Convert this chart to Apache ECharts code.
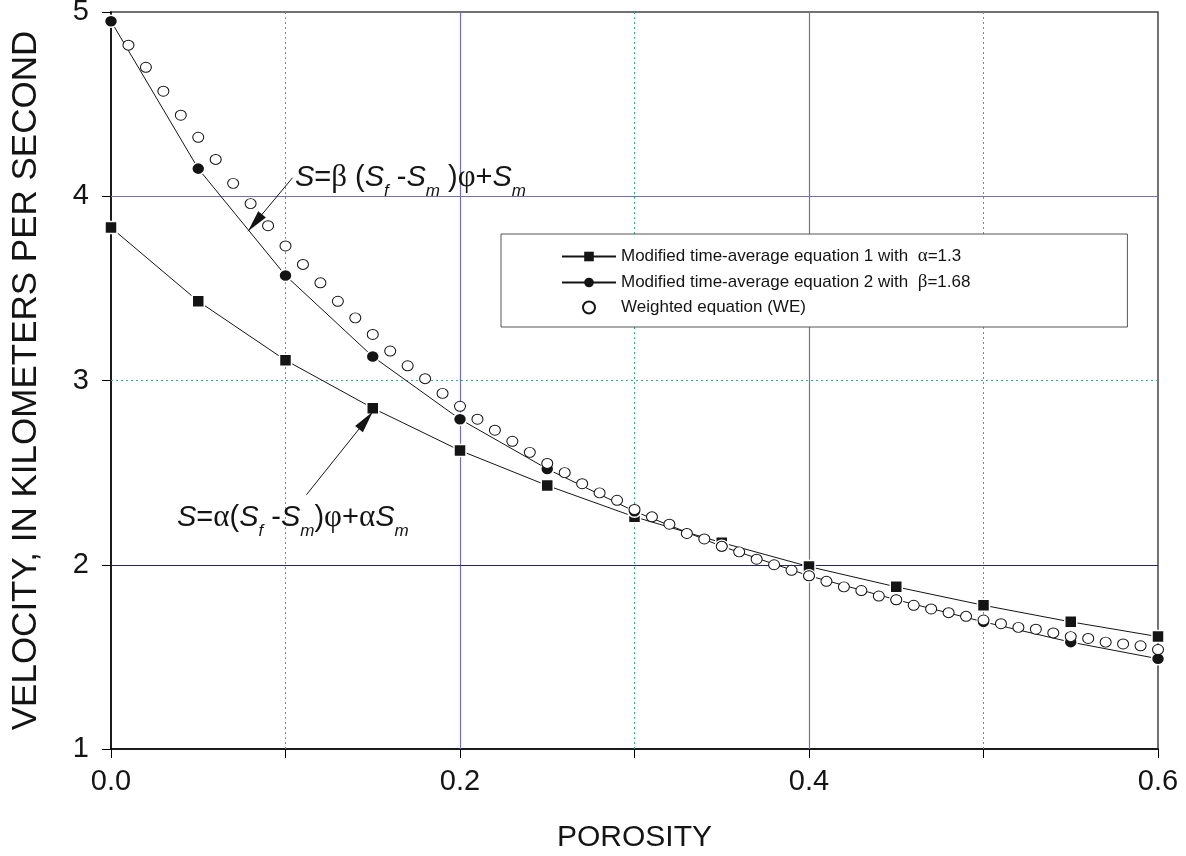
<!DOCTYPE html>
<html>
<head>
<meta charset="utf-8">
<title>Velocity versus porosity</title>
<script src="https://cdn.jsdelivr.net/npm/echarts@6/dist/echarts.min.js"></script>
<style>
  html, body { margin: 0; padding: 0; background: #fff; }
  #chart { width: 1186px; height: 856px; }
</style>
</head>
<body>
<div id="chart"></div>
<script>
// porosity steps of the two modified time-average equations
const porosity = [0.00, 0.05, 0.10, 0.15, 0.20, 0.25, 0.30, 0.35, 0.40, 0.45, 0.50, 0.55, 0.60];
const velocityEq1 = [3.83, 3.43, 3.11, 2.85, 2.62, 2.43, 2.26, 2.12, 1.99, 1.88, 1.78, 1.69, 1.61];
const velocityEq2 = [4.95, 4.15, 3.57, 3.13, 2.79, 2.52, 2.29, 2.10, 1.94, 1.81, 1.69, 1.58, 1.49];

// weighted equation, read every 0.01
const porosityWE = [
  0.01, 0.02, 0.03, 0.04, 0.05, 0.06, 0.07, 0.08, 0.09, 0.10,
  0.11, 0.12, 0.13, 0.14, 0.15, 0.16, 0.17, 0.18, 0.19, 0.20,
  0.21, 0.22, 0.23, 0.24, 0.25, 0.26, 0.27, 0.28, 0.29, 0.30,
  0.31, 0.32, 0.33, 0.34, 0.35, 0.36, 0.37, 0.38, 0.39, 0.40,
  0.41, 0.42, 0.43, 0.44, 0.45, 0.46, 0.47, 0.48, 0.49, 0.50,
  0.51, 0.52, 0.53, 0.54, 0.55, 0.56, 0.57, 0.58, 0.59, 0.60
];
const velocityWE = [
  4.82, 4.70, 4.57, 4.44, 4.32, 4.20, 4.07, 3.96, 3.84, 3.73,
  3.63, 3.53, 3.43, 3.34, 3.25, 3.16, 3.08, 3.01, 2.93, 2.86,
  2.79, 2.73, 2.67, 2.61, 2.55, 2.50, 2.44, 2.39, 2.35, 2.30,
  2.26, 2.22, 2.17, 2.14, 2.10, 2.07, 2.03, 2.00, 1.97, 1.94,
  1.91, 1.88, 1.86, 1.83, 1.81, 1.78, 1.76, 1.74, 1.72, 1.70,
  1.68, 1.66, 1.65, 1.63, 1.61, 1.60, 1.58, 1.57, 1.56, 1.54
];

const xTickLabels = ['0.0', '', '0.2', '', '0.4', '', '0.6'];
const yTickLabels = ['1', '2', '3', '4', '5'];
// grid lines, grouped by how they are drawn
const dottedX = [0.1, 0.3, 0.5];
const dottedY = [3];
const blueX = [0.2, 0.4];
const blueY = [4];
const navyY = [2];

const seriesNames = [
  'Modified time-average equation 1 with  α=1.3',
  'Modified time-average equation 2 with  β=1.68',
  'Weighted equation (WE)'
];

const SANS = "'Liberation Sans', Arial, Helvetica, sans-serif";
const SERIF = "'Liberation Serif', 'Times New Roman', serif";
const INK = '#141414';

const chart = echarts.init(document.getElementById('chart'));

// arrows of the two formula notes (tail, tip)
const arrows = [
  [{ coord: [0.104, 4.10] }, { coord: [0.0785, 3.81] }],
  [{ coord: [0.112, 2.38] }, { coord: [0.150, 2.83] }]
];

const formulaBeta = '{s|S}{o|=}{g|β}{o| (}{s|S}{b|f}{o| -}{s|S}{b|m}{o| )}{g|φ}{o|+}{s|S}{b|m}';
const formulaAlpha = '{s|S}{o|=}{g|α}{o|(}{s|S}{b|f}{o| -}{s|S}{b|m}{o|)}{g|φ}{o|+}{g|α}{s|S}{b|m}';
const formulaRich = {
  s: { fontFamily: SANS, fontStyle: 'italic', fontSize: 29, lineHeight: 44, fill: INK },
  o: { fontFamily: SANS, fontSize: 29, lineHeight: 44, fill: INK },
  g: { fontFamily: SERIF, fontSize: 31, lineHeight: 44, fill: INK },
  b: { fontFamily: SANS, fontStyle: 'italic', fontSize: 17, lineHeight: 18, verticalAlign: 'bottom', fill: INK }
};
const notes = [
  { text: formulaBeta, at: [0.1054, 4.10] },
  { text: formulaAlpha, at: [0.0378, 2.254] }
];

const hiddenData = porosity.map((p, i) => [p, velocityEq1[i]]);

// one invisible carrier series per grid-line look
function gridLineSeries(xs, ys, lineStyle) {
  return {
    type: 'line', z: 1, silent: true,
    symbol: 'none', lineStyle: { opacity: 0 },
    data: hiddenData,
    markLine: {
      z: 1, silent: true, symbol: 'none', animation: false,
      label: { show: false },
      emphasis: { disabled: true },
      lineStyle,
      data: [...xs.map(v => ({ xAxis: v })), ...ys.map(v => ({ yAxis: v }))]
    }
  };
}

const option = {
  animation: false,
  grid: {
    left: 111, right: 28, top: 12, bottom: 107,
    outerBoundsMode: 'none',
    containLabel: false,
    show: true, borderColor: '#444', borderWidth: 1.5
  },
  legend: {
    data: [
      { name: seriesNames[0], itemStyle: { borderWidth: 0 } },
      { name: seriesNames[1], itemStyle: { borderWidth: 0 } },
      { name: seriesNames[2] }
    ],
    orient: 'vertical',
    left: 501, top: 234,
    padding: [13, 157, 11, 60],
    itemWidth: 54, itemHeight: 12, itemGap: 7,
    backgroundColor: '#fff',
    borderColor: '#555', borderWidth: 1,
    borderRadius: 0,
    z: 10,
    selectedMode: false,
    formatter: name => '{t|' + name.replace(/([αβ])/, '}{g|$1}{t|') + '}',
    textStyle: {
      rich: {
        t: { fontFamily: SANS, fontSize: 17, color: INK },
        g: { fontFamily: SERIF, fontSize: 19, color: INK }
      }
    }
  },
  xAxis: {
    type: 'value',
    min: 0, max: 0.6, interval: 0.1,
    name: 'POROSITY',
    nameLocation: 'middle',
    nameGap: 74,
    nameTextStyle: { fontFamily: SANS, fontSize: 30, color: INK },
    axisLine: { onZero: false, lineStyle: { color: '#000', width: 1.5 } },
    axisTick: { length: 9, lineStyle: { color: '#000', width: 1 } },
    axisLabel: {
      margin: 18,
      fontFamily: SANS, fontSize: 29, color: INK,
      formatter: (v, i) => xTickLabels[i]
    },
    splitLine: { show: false }
  },
  yAxis: {
    type: 'value',
    min: 1, max: 5, interval: 1,
    name: 'VELOCITY, IN KILOMETERS PER SECOND',
    nameLocation: 'middle',
    nameGap: 67,
    nameTextStyle: { fontFamily: SANS, fontSize: 35, color: INK },
    axisLine: { lineStyle: { color: '#000', width: 1.5 } },
    axisTick: { show: true, length: 9, lineStyle: { color: '#000', width: 1 } },
    axisLabel: {
      margin: 22,
      fontFamily: SANS, fontSize: 29, color: INK,
      formatter: (v, i) => yTickLabels[i]
    },
    splitLine: { show: false }
  },
  series: [
    gridLineSeries(dottedX, dottedY, { color: '#2bb673', width: 1, type: [2, 3] }),
    gridLineSeries(blueX, blueY, { color: '#6f6fc0', width: 1.2, type: 'solid' }),
    gridLineSeries([], navyY, { color: '#23236e', width: 1.2, type: 'solid' }),
    {
      name: seriesNames[0],
      type: 'line',
      z: 3,
      data: porosity.map((p, i) => [p, velocityEq1[i]]),
      symbol: 'rect', symbolSize: 12,
      lineStyle: { color: INK, width: 1 },
      itemStyle: { color: INK, borderColor: '#fff', borderWidth: 1.5 }
    },
    {
      name: seriesNames[1],
      type: 'line',
      z: 3,
      data: porosity.map((p, i) => [p, velocityEq2[i]]),
      symbol: 'circle', symbolSize: [13, 12],
      lineStyle: { color: INK, width: 1 },
      itemStyle: { color: INK, borderColor: '#fff', borderWidth: 1.5 }
    },
    {
      name: seriesNames[2],
      type: 'scatter',
      z: 4,
      data: porosityWE.map((p, i) => [p, velocityWE[i]]),
      symbol: 'circle', symbolSize: [11, 10],
      itemStyle: { color: '#fff', borderColor: INK, borderWidth: 1, opacity: 1 }
    },
    {
      type: 'line', z: 5, silent: true,
      symbol: 'none', lineStyle: { opacity: 0 },
      data: hiddenData,
      markLine: {
        z: 5,
        silent: true, animation: false,
        symbol: ['none', 'triangle'],
        symbolSize: [10, 22],
        symbolOffset: [0, [0, 11]],
        label: { show: false },
        emphasis: { disabled: true },
        lineStyle: { color: INK, width: 1, type: 'solid' },
        data: arrows
      }
    }
  ]
};

chart.setOption(option);

// formula notes, anchored in data units
chart.setOption({
  graphic: notes.map(n => {
    const [px, py] = chart.convertToPixel({ gridIndex: 0 }, n.at);
    return {
      type: 'text',
      x: px, y: py, z: 20,
      style: { text: n.text, rich: formulaRich, align: 'left', verticalAlign: 'middle' }
    };
  })
});
</script>
</body>
</html>
